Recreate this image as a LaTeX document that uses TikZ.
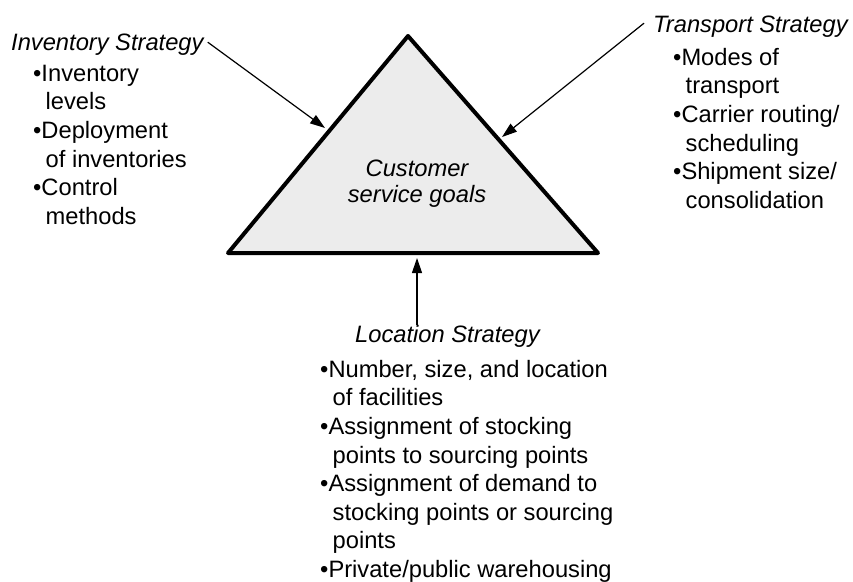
\documentclass[tikz,border=0pt]{standalone}
\usepackage{fontspec}
\setmainfont{Liberation Sans}
\usetikzlibrary{arrows.meta}

\definecolor{goalfill}{RGB}{236,236,236}
\newcommand{\cont}{\hspace*{12.5pt}}

\begin{document}
\begin{tikzpicture}[x=1pt,y=-1pt,
        txt/.style={font=\fontsize{23.7}{28.6}\selectfont, inner sep=0pt},
        heading/.style={txt, font=\fontsize{23.7}{28.6}\selectfont\itshape, anchor=base west},
        items/.style={txt, align=left, anchor=north west},
        pointer/.style={-{Triangle[length=15pt,width=10pt]}, line width=1.2pt}]
            \useasboundingbox (0,0) rectangle (853,581);

            % triangle
            \coordinate (top) at (408,36);
            \coordinate (bl) at (228,253);
            \coordinate (br) at (598,253);
            \draw[line width=4pt, line join=round, fill=goalfill] (top) -- (br) -- (bl) -- cycle;
            \node[txt, align=center, font=\fontsize{23.7}{26}\selectfont\itshape] (goal) at (417,184) {Customer\\service goals};

            \coordinate (invtip) at (325,128);
            \coordinate (trtip) at (502,137);
            \coordinate (loctip) at (417,258);

            % inventory
            \node[heading] (inv) at (11,50) {Inventory Strategy};
            \node[items] (invlist) at (33,64.7) {•Inventory\\\cont levels\\•Deployment\\\cont of inventories\\•Control\\\cont methods};

            % transport
            \node[heading] (tr) at (653,32) {Transport Strategy};
            \node[items] (trlist) at (673,48) {•Modes of\\\cont transport\\•Carrier routing/\\\cont scheduling\\•Shipment size/\\\cont consolidation};

            % location
            \node[heading] (loc) at (355,342) {Location Strategy};
            \node[items] (loclist) at (320,360) {•Number, size, and location\\\cont of facilities\\•Assignment of stocking\\\cont points to sourcing points\\•Assignment of demand to\\\cont stocking points or sourcing\\\cont points\\•Private/public warehousing};

            \draw[pointer] ([xshift=4pt,yshift=2pt]inv.east) -- (invtip);
            \draw[pointer] ([xshift=-9pt,yshift=3pt]tr.west) -- (trtip);
            \draw[pointer] (loc.north -| loctip) -- (loctip);
        \end{tikzpicture}
\end{document}
